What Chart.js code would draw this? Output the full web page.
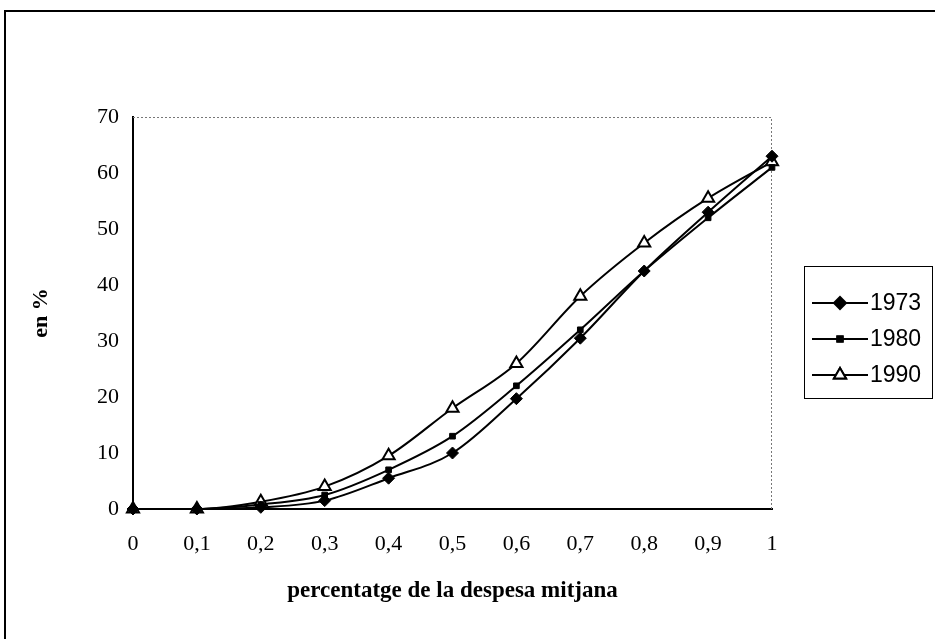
<!DOCTYPE html>
<html>
<head>
<meta charset="utf-8">
<script src="https://cdn.jsdelivr.net/npm/chart.js@4"></script>
<style>
  html, body { margin: 0; padding: 0; background: #fff; }
  #wrap { position: relative; width: 935px; height: 639px; overflow: hidden; }
  #frame { position: absolute; left: 4px; top: 10px; width: 940px; height: 640px;
           border-left: 2px solid #000; border-top: 2px solid #000; }
  canvas { position: absolute; left: 0; top: 0; }
</style>
</head>
<body>
<div id="wrap">
  <div id="frame"></div>
  <canvas id="chartLorenz" width="935" height="639"></canvas>
</div>
<script>
const xValues = [0, 0.1, 0.2, 0.3, 0.4, 0.5, 0.6, 0.7, 0.8, 0.9, 1];
const years = ['1973', '1980', '1990'];
const s1973 = [0, 0, 0.3, 1.5, 5.5, 10, 19.7, 30.5, 42.5, 53, 63];
const s1980 = [0, 0, 0.8, 2.5, 7, 13, 22, 32, 42.5, 52, 61];
const s1990 = [0, 0, 1.3, 4, 9.5, 18, 26, 38, 47.5, 55.5, 62];

const pts = arr => arr.map((v, i) => ({ x: xValues[i], y: v }));
const serif = '"Liberation Serif", "Times New Roman", serif';

// legend drawn by hand: line with marker in the middle, framed box
const boxLegend = {
    id: 'boxLegend',
    afterDraw(chart) {
        const c = chart.ctx;
        c.save();
        c.strokeStyle = '#000';
        c.lineWidth = 1;
        c.strokeRect(804.5, 266.5, 128, 132);
        chart.data.datasets.forEach((ds, i) => {
            const y = 303 + i * 36;
            c.beginPath();
            c.moveTo(812, y);
            c.lineTo(868, y);
            c.lineWidth = 2;
            c.stroke();
            Chart.helpers.drawPoint(c, {
                pointStyle: ds.pointStyle,
                radius: ds.pointRadius,
                borderWidth: ds.pointBorderWidth || 1,
                rotation: 0
            }, 840, y);
            c.fillStyle = ds.pointBackgroundColor;
            c.strokeStyle = '#000';
            c.lineWidth = ds.pointBorderWidth || 1;
            c.fill();
            c.stroke();
            c.fillStyle = '#000';
            c.font = '23px "Liberation Sans", Arial, sans-serif';
            c.textBaseline = 'middle';
            c.fillText(ds.label, 870, y + 1);
        });
        c.restore();
    }
};

// dotted top/right border of the plot area
const plotFrame = {
    id: 'plotFrame',
    beforeDatasetsDraw(chart) {
        const a = chart.chartArea, c = chart.ctx;
        c.save();
        c.strokeStyle = '#777';
        c.lineWidth = 1;
        c.setLineDash([2, 2]);
        c.beginPath();
        c.moveTo(a.left, a.top + 0.5);
        c.lineTo(a.right - 0.5, a.top + 0.5);
        c.lineTo(a.right - 0.5, a.bottom);
        c.stroke();
        c.restore();
    }
};

const common = { borderColor: '#000', borderWidth: 2, cubicInterpolationMode: 'monotone',
                 pointBorderColor: '#000', fill: false, clip: false };

new Chart(document.getElementById('chartLorenz').getContext('2d'), {
    type: 'line',
    data: {
        datasets: [
            Object.assign({ label: years[0], data: pts(s1973), pointStyle: 'rectRot', pointRadius: 6,
                            pointBackgroundColor: '#000', pointBorderWidth: 1 }, common),
            Object.assign({ label: years[1], data: pts(s1980), pointStyle: 'rect', pointRadius: 4,
                            pointBackgroundColor: '#000', pointBorderWidth: 1 }, common),
            Object.assign({ label: years[2], data: pts(s1990), pointStyle: 'triangle', pointRadius: 7,
                            pointBackgroundColor: '#fff', pointBorderWidth: 2 }, common)
        ]
    },
    options: {
        responsive: false,
        animation: false,
        layout: { padding: { left: 0, top: 117, right: 163, bottom: 0 } },
        plugins: { legend: { display: false }, tooltip: { enabled: false } },
        scales: {
            x: {
                type: 'linear', min: 0, max: 1,
                afterFit: s => { s.height = 130; },
                grid: { display: false, drawTicks: true, tickLength: 6, tickColor: '#000' },
                border: { color: '#000', width: 2 },
                ticks: { stepSize: 0.1, color: '#000', padding: 16,
                         font: { family: serif, size: 22 },
                         callback: v => String(Math.round(v * 10) / 10).replace('.', ',') },
                title: { display: true, text: 'percentatge de la despesa mitjana', color: '#000',
                         padding: { top: 0, bottom: 34 },
                         font: { family: serif, size: 23, weight: 'bold' } }
            },
            y: {
                min: 0, max: 70,
                afterFit: s => { s.width = 133; },
                grid: { display: false, drawTicks: true, tickLength: 6, tickColor: '#000' },
                border: { color: '#000', width: 2 },
                ticks: { stepSize: 10, color: '#000', padding: 8,
                         font: { family: serif, size: 22 } },
                title: { display: true, text: 'en %', color: '#000', padding: { top: 28, bottom: 0 },
                         font: { family: serif, size: 22, weight: 'bold' } }
            }
        }
    },
    plugins: [plotFrame, boxLegend]
});
</script>
</body>
</html>
